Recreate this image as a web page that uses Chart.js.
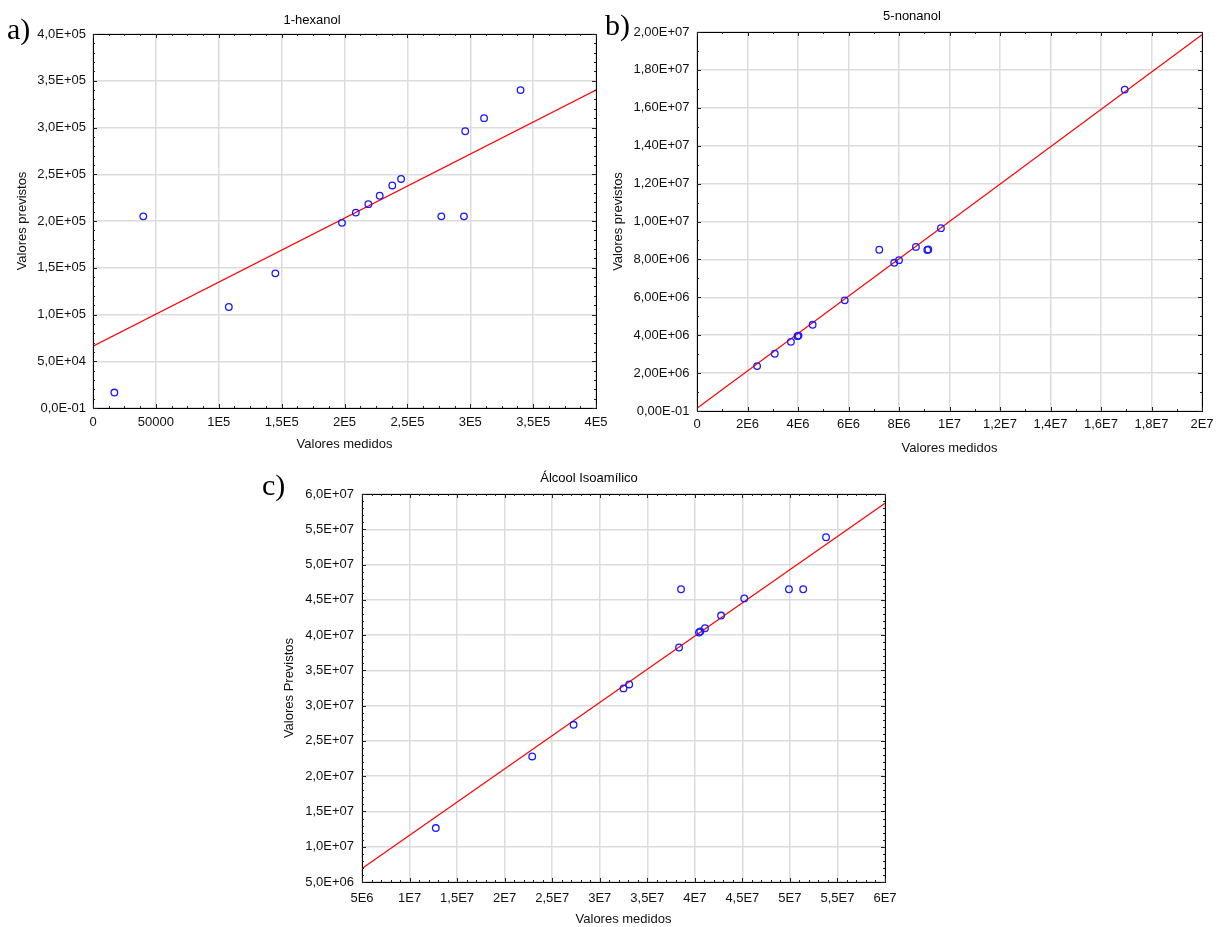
<!DOCTYPE html>
<html><head><meta charset="utf-8">
<script src="https://cdn.jsdelivr.net/npm/chart.js@4/dist/chart.umd.min.js"></script>
<style>
html,body{margin:0;padding:0;background:#fff;width:1222px;height:927px;overflow:hidden;position:relative}
canvas{position:absolute;display:block}
</style></head><body>
<canvas id="ca" width="622" height="460" style="left:0;top:0"></canvas>
<canvas id="cb" width="622" height="460" style="left:600px;top:0"></canvas>
<canvas id="cc" width="660" height="467" style="left:250px;top:460px"></canvas>
<script>
// ---------- data: panel a (1-hexanol) ----------
const measuredA  = [17000, 40000, 108000, 145000, 198000, 209000, 219000, 228000, 238000, 245000, 277000, 295000, 296000, 311000, 340000];
const predictedA = [16500, 205000, 108000, 144000, 198000, 209000, 218000, 227000, 238000, 245000, 205000, 205000, 296000, 310000, 340000];
const fitXA = [0, 400000];
const fitYA = [66000, 340000];
const xTickValuesA = [0, 50000, 100000, 150000, 200000, 250000, 300000, 350000, 400000];
const xTickLabelsA = ['0', '50000', '1E5', '1,5E5', '2E5', '2,5E5', '3E5', '3,5E5', '4E5'];
const yTickValuesA = [0, 50000, 100000, 150000, 200000, 250000, 300000, 350000, 400000];
const yTickLabelsA = ['0,0E-01', '5,0E+04', '1,0E+05', '1,5E+05', '2,0E+05', '2,5E+05', '3,0E+05', '3,5E+05', '4,0E+05'];

// ---------- data: panel b (5-nonanol) ----------
const measuredB  = [2.38e6, 3.08e6, 3.72e6, 3.98e6, 4.02e6, 4.58e6, 5.85e6, 7.22e6, 7.81e6, 8.0e6, 8.67e6, 9.12e6, 9.16e6, 9.66e6, 16.94e6];
const predictedB = [2.37e6, 3.02e6, 3.65e6, 3.95e6, 3.98e6, 4.55e6, 5.84e6, 8.51e6, 7.82e6, 7.96e6, 8.66e6, 8.50e6, 8.52e6, 9.65e6, 16.96e6];
const fitXB = [0, 2e7];
const fitYB = [1.4e5, 1.986e7];
const xTickValuesB = [0, 2e6, 4e6, 6e6, 8e6, 1e7, 1.2e7, 1.4e7, 1.6e7, 1.8e7, 2e7];
const xTickLabelsB = ['0', '2E6', '4E6', '6E6', '8E6', '1E7', '1,2E7', '1,4E7', '1,6E7', '1,8E7', '2E7'];
const yTickValuesB = [0, 2e6, 4e6, 6e6, 8e6, 1e7, 1.2e7, 1.4e7, 1.6e7, 1.8e7, 2e7];
const yTickLabelsB = ['0,00E-01', '2,00E+06', '4,00E+06', '6,00E+06', '8,00E+06', '1,00E+07', '1,20E+07', '1,40E+07', '1,60E+07', '1,80E+07', '2,00E+07'];

// ---------- data: panel c (Álcool Isoamílico) ----------
const measuredC  = [12.76e6, 22.9e6, 27.25e6, 32.5e6, 33.1e6, 38.34e6, 38.55e6, 40.44e6, 40.58e6, 41.07e6, 42.76e6, 45.2e6, 49.9e6, 51.4e6, 53.8e6];
const predictedC = [12.65e6, 22.8e6, 27.28e6, 32.44e6, 33.0e6, 38.24e6, 46.5e6, 40.37e6, 40.5e6, 40.98e6, 42.77e6, 45.2e6, 46.5e6, 46.5e6, 53.87e6];
const fitXC = [5e6, 6e7];
const fitYC = [6.9e6, 58.7e6];
const xTickValuesC = [5e6, 1e7, 1.5e7, 2e7, 2.5e7, 3e7, 3.5e7, 4e7, 4.5e7, 5e7, 5.5e7, 6e7];
const xTickLabelsC = ['5E6', '1E7', '1,5E7', '2E7', '2,5E7', '3E7', '3,5E7', '4E7', '4,5E7', '5E7', '5,5E7', '6E7'];
const yTickValuesC = [5e6, 1e7, 1.5e7, 2e7, 2.5e7, 3e7, 3.5e7, 4e7, 4.5e7, 5e7, 5.5e7, 6e7];
const yTickLabelsC = ['5,0E+06', '1,0E+07', '1,5E+07', '2,0E+07', '2,5E+07', '3,0E+07', '3,5E+07', '4,0E+07', '4,5E+07', '5,0E+07', '5,5E+07', '6,0E+07'];

const FONT = "'Liberation Sans', Arial, sans-serif";
const SERIF = "'Liberation Serif', 'Times New Roman', serif";

function pts(xs, ys) { return xs.map((x, i) => ({ x: x, y: ys[i] })); }

const decoPlugin = {
  id: 'deco',
  afterDraw(chart, args, o) {
    const ctx = chart.ctx, a = chart.chartArea;
    ctx.save();
    // frame
    ctx.strokeStyle = '#000';
    ctx.lineWidth = 1;
    ctx.strokeRect(Math.round(a.left) + 0.5, Math.round(a.top) + 0.5,
                   Math.round(a.right) - Math.round(a.left), Math.round(a.bottom) - Math.round(a.top));
    // inward major/minor ticks on all four sides
    ctx.strokeStyle = '#222';
    const drawT = (scale, n, horiz) => {
      const vals = scale.ticks.map(t => t.value);
      for (let i = 0; i < vals.length; i++) {
        const marks = [[vals[i], 4]];
        if (i < vals.length - 1) for (let k = 1; k < n; k++) marks.push([vals[i] + (vals[i + 1] - vals[i]) * k / n, 2]);
        for (const m of marks) {
          const p = Math.round(scale.getPixelForValue(m[0])) + 0.5;
          const len = m[1];
          ctx.beginPath();
          if (horiz) {
            ctx.moveTo(p, a.bottom); ctx.lineTo(p, a.bottom - len);
            ctx.moveTo(p, a.top); ctx.lineTo(p, a.top + len);
          } else {
            ctx.moveTo(a.left, p); ctx.lineTo(a.left + len, p);
            ctx.moveTo(a.right, p); ctx.lineTo(a.right - len, p);
          }
          ctx.stroke();
        }
      }
    };
    drawT(chart.scales.x, o.minorX, true);
    drawT(chart.scales.y, o.minorY, false);
    // title
    ctx.fillStyle = '#000';
    ctx.font = '13px ' + FONT;
    ctx.textAlign = 'center';
    ctx.textBaseline = 'middle';
    ctx.fillText(o.title, o.titleX, o.titleY);
    // panel letter
    ctx.font = '30px ' + SERIF;
    ctx.textAlign = 'left';
    ctx.textBaseline = 'alphabetic';
    ctx.fillText(o.letter, o.letterX, o.letterY);
    ctx.restore();
  }
};

function makeChart(id, p) {
  const tickFont = { family: FONT, size: 13 };
  return new Chart(document.getElementById(id), {
    type: 'scatter',
    data: {
      datasets: [
        { data: pts(p.mx, p.my), pointRadius: 3.3, pointBorderWidth: 1.3,
          borderColor: '#1a1aff', backgroundColor: 'rgba(0,0,0,0)', pointBackgroundColor: 'rgba(0,0,0,0)' },
        { data: pts(p.fx, p.fy), showLine: true, pointRadius: 0, borderColor: '#ff0000', borderWidth: 1.2 }
      ]
    },
    options: {
      responsive: false, animation: false, events: [],
      layout: { padding: p.pad },
      plugins: { legend: { display: false }, tooltip: { enabled: false }, deco: p.deco },
      scales: {
        x: {
          type: 'linear', min: p.xv[0], max: p.xv[p.xv.length - 1],
          afterBuildTicks: s => { s.ticks = p.xv.map(v => ({ value: v })); },
          afterFit: s => { s.height = p.xh; },
          ticks: { autoSkip: false, maxRotation: 0, padding: p.xpad, color: '#111', font: tickFont,
                   callback: (v, i) => p.xl[i] },
          grid: { color: '#dcdcdc', lineWidth: 1.5, drawTicks: false },
          border: { display: false },
          title: { display: true, text: 'Valores medidos', color: '#111', font: tickFont, padding: { top: 0, bottom: p.xtp } }
        },
        y: {
          type: 'linear', min: p.yv[0], max: p.yv[p.yv.length - 1],
          afterBuildTicks: s => { s.ticks = p.yv.map(v => ({ value: v })); },
          afterFit: s => { s.width = p.yw; },
          ticks: { autoSkip: false, padding: p.ypad, color: '#111', font: tickFont,
                   callback: (v, i) => p.yl[i] },
          grid: { color: '#dcdcdc', lineWidth: 1.5, drawTicks: false },
          border: { display: false },
          title: { display: true, text: p.ytitle, color: '#111', font: tickFont, padding: { top: p.ytp, bottom: 0 } }
        }
      }
    },
    plugins: [decoPlugin]
  });
}

makeChart('ca', {
  mx: measuredA, my: predictedA, fx: fitXA, fy: fitYA,
  xv: xTickValuesA, xl: xTickLabelsA, yv: yTickValuesA, yl: yTickLabelsA,
  pad: { left: 0, top: 34, right: 26, bottom: 0 }, xh: 52, yw: 93, xpad: 7, ypad: 7, xtp: 8.2, ytp: 14.2,
  ytitle: 'Valores previstos',
  deco: { title: '1-hexanol', titleX: 312, titleY: 20, letter: 'a)', letterX: 7, letterY: 39, minorX: 4, minorY: 5 }
});
makeChart('cb', {
  mx: measuredB, my: predictedB, fx: fitXB, fy: fitYB,
  xv: xTickValuesB, xl: xTickLabelsB, yv: yTickValuesB, yl: yTickLabelsB,
  pad: { left: 0, top: 32, right: 20, bottom: 0 }, xh: 49, yw: 97, xpad: 6, ypad: 7.5, xtp: 4.2, ytp: 10.5,
  ytitle: 'Valores previstos',
  deco: { title: '5-nonanol', titleX: 312, titleY: 16, letter: 'b)', letterX: 5, letterY: 35, minorX: 2, minorY: 2 }
});
makeChart('cc', {
  mx: measuredC, my: predictedC, fx: fitXC, fy: fitYC,
  xv: xTickValuesC, xl: xTickLabelsC, yv: yTickValuesC, yl: yTickLabelsC,
  pad: { left: 0, top: 34, right: 25, bottom: 0 }, xh: 45, yw: 112, xpad: 8.5, ypad: 8, xtp: 0, ytp: 31.2,
  ytitle: 'Valores Previstos',
  deco: { title: 'Álcool Isoamílico', titleX: 339, titleY: 18, letter: 'c)', letterX: 12, letterY: 35, minorX: 5, minorY: 5 }
});
</script>
</body></html>
